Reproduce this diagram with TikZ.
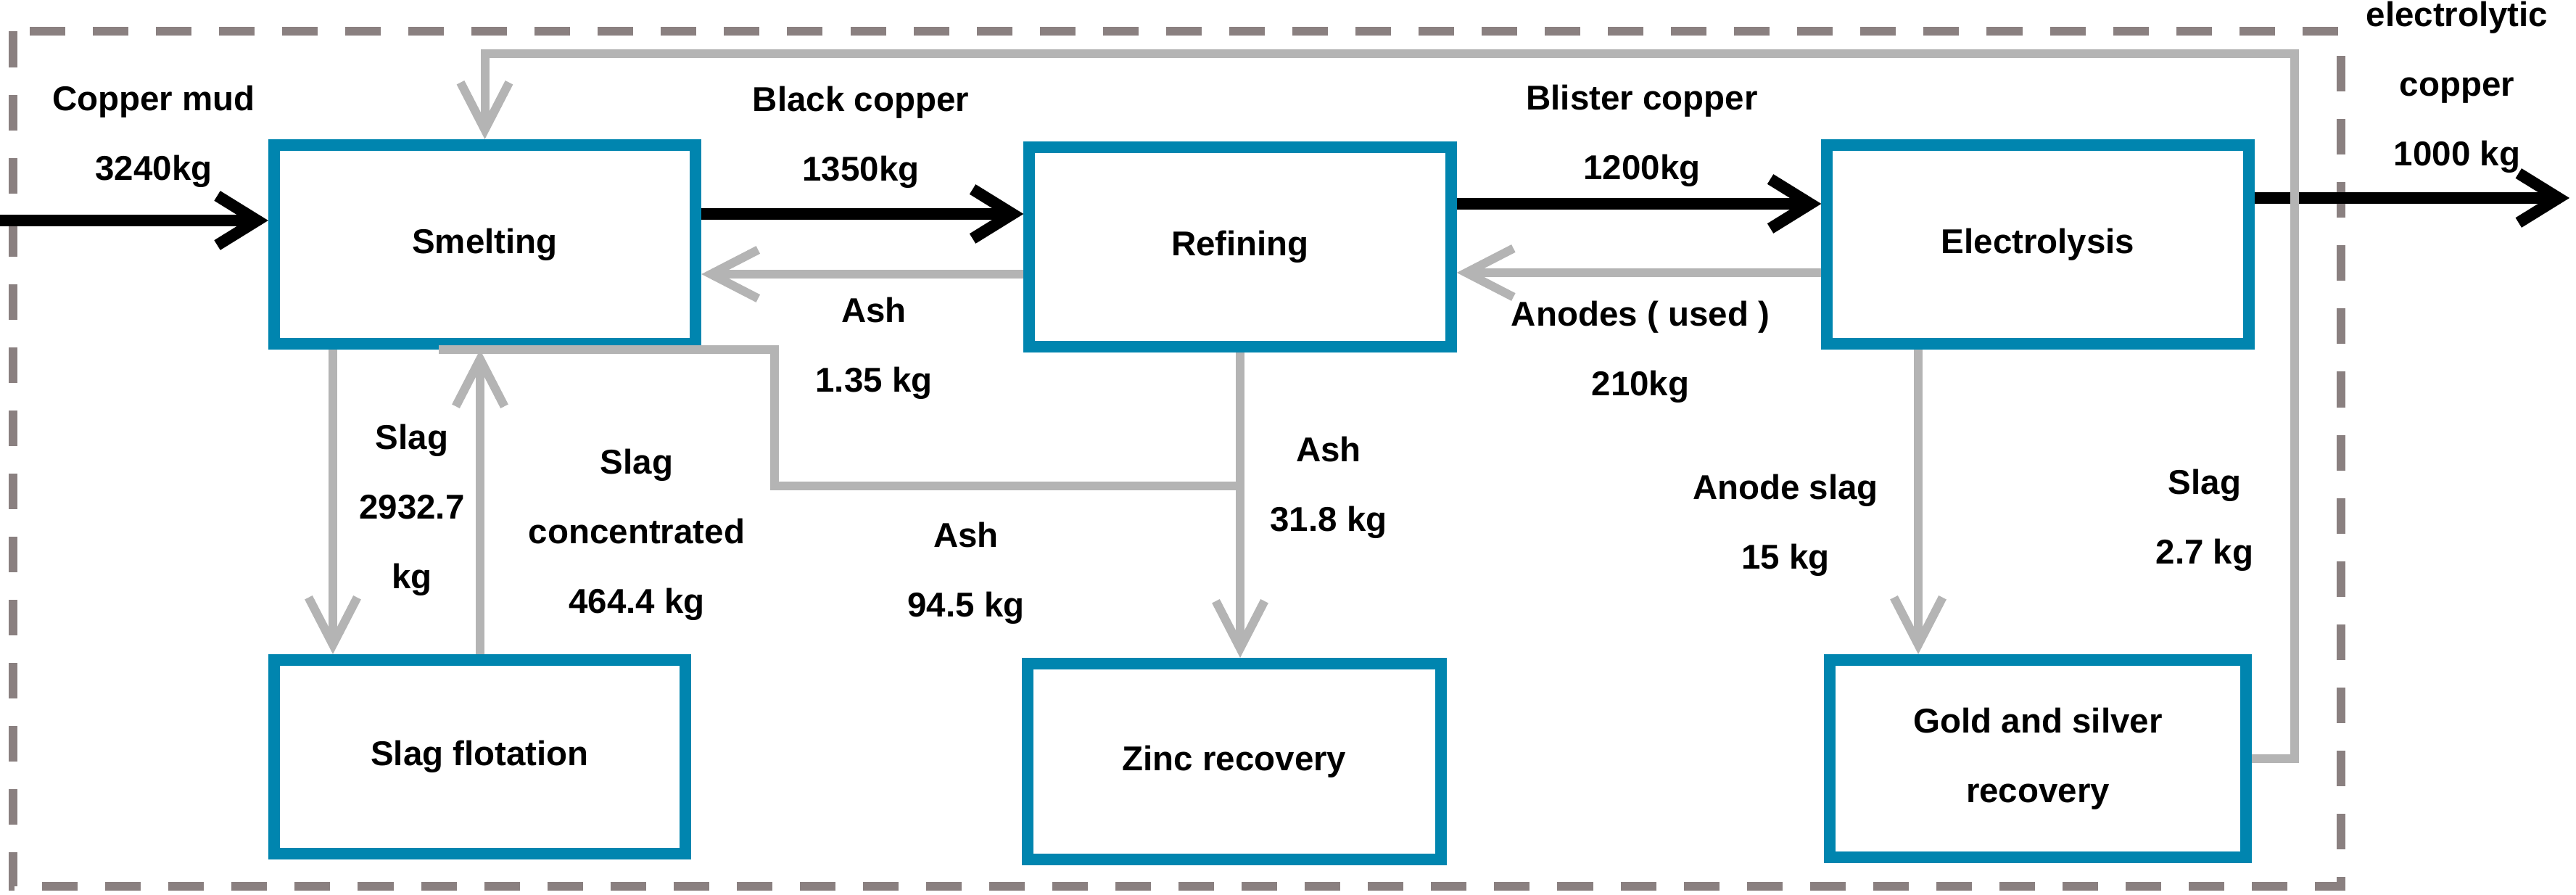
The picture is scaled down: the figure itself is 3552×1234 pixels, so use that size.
\documentclass[tikz,border=0pt]{standalone}
\usepackage{fontspec}
\setmainfont{Liberation Sans}
\definecolor{boxblue}{RGB}{0, 133, 175}
\definecolor{flowgray}{RGB}{180, 180, 180}
\definecolor{framegray}{RGB}{138, 128, 128}
\usetikzlibrary{arrows.meta, calc}

\begin{document}
\begin{tikzpicture}[x=0.01cm, y=0.01cm,
    procbox/.style={draw=boxblue, line width=0.16cm, minimum width=5.81cm, minimum height=2.74cm,
                    font=\fontsize{13.5}{27.3}\selectfont\bfseries, align=center},
    blackflow/.style={draw=black, line width=0.16cm, -{Straight Barb[length=0.55cm, width=0.68cm]}},
    grayflow/.style={draw=flowgray, line width=0.12cm},
    grayarrow/.style={grayflow, -{Straight Barb[length=0.65cm, width=0.67cm]}},
    flowlabel/.style={font=\fontsize{13.5}{27.3}\selectfont\bfseries, align=center}]
    \useasboundingbox (0,0) rectangle (3552,-1234);

    % Plant boundary
    \draw[framegray, line width=0.12cm, dash pattern=on 0.49cm off 0.38cm] (18,-43.5) rectangle (3228,-1222);

    % Process units
    \node[procbox] (smelt) at (668.5,-337) {Smelting};
    \node[procbox] (refine) at (1710,-340.5) {Refining};
    \node[procbox] (elec) at (2810,-337) {Electrolysis};
    \node[procbox, minimum width=5.67cm, minimum height=2.67cm] (flot) at (661.5,-1043.5) {Slag flotation};
    \node[procbox, minimum width=5.70cm, minimum height=2.70cm] (zinc) at (1702,-1050) {Zinc recovery};
    \node[procbox, minimum width=5.74cm, minimum height=2.72cm] (gold) at (2810,-1046) {Gold and silver\\recovery};

    % Main copper line
    \coordinate (feed) at (0,-304);
    \coordinate (product) at (3543,-273);
    \draw[blackflow] (feed) -- (smelt.west |- feed);
    \draw[blackflow] (smelt.east |- 0,-295) -- (refine.west |- 0,-295);
    \draw[blackflow] (refine.east |- 0,-281) -- (elec.west |- 0,-281);
    \draw[blackflow] (elec.east |- product) -- (product);

    % Returns and side streams
    \draw[grayarrow] (refine.west |- 0,-378) -- (smelt.east |- 0,-378);
    \draw[grayarrow] (elec.west |- 0,-376) -- (refine.east |- 0,-376);
    \draw[grayarrow] (gold.east) -| (3164,-74) -| (smelt.north);
    \draw[grayarrow] (smelt.south -| 459,0) -- (flot.north -| 459,0);
    \draw[grayarrow] (flot.north -| 662,0) -- (smelt.south -| 662,0);
    \coordinate (ashjoin) at (refine.south |- 0,-670);
    \draw[grayflow] (smelt.south -| 605,0) -- (smelt.south -| 1068,0) |- (ashjoin);
    \draw[grayarrow] (refine.south) -- (refine.south |- zinc.north);
    \draw[grayarrow] (elec.south -| 2645,0) -- (gold.north -| 2645,0);

    % Stream labels
    \node[flowlabel] (mudlbl) at (212,-188) {Copper mud\\3240kg};
    \node[flowlabel] (blacklbl) at (1187,-189) {Black copper\\1350kg};
    \node[flowlabel] (blisterlbl) at (2264,-187) {Blister copper\\1200kg};
    \node[flowlabel] (productlbl) at (3388,-120) {electrolytic\\copper\\1000 kg};
    \node[flowlabel] (ashlbl) at (1205,-480) {Ash\\1.35 kg};
    \node[flowlabel] (anodelbl) at (2262,-485) {Anodes ( used )\\210kg};
    \node[flowlabel] (slaglbl) at (568,-703) {Slag\\2932.7\\kg};
    \node[flowlabel] (conclbl) at (878,-737) {Slag\\concentrated\\464.4 kg};
    \node[flowlabel] (smashlbl) at (1332,-790) {Ash\\94.5 kg};
    \node[flowlabel] (rfashlbl) at (1832,-672) {Ash\\31.8 kg};
    \node[flowlabel] (aslaglbl) at (2462,-724) {Anode slag\\15 kg};
    \node[flowlabel] (gslaglbl) at (3040,-717) {Slag\\2.7 kg};
\end{tikzpicture}
\end{document}
